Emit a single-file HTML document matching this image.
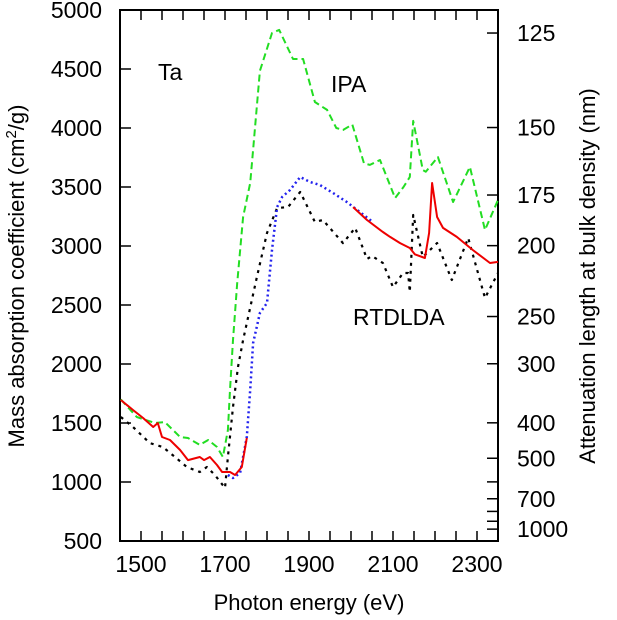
<!DOCTYPE html>
<html><head><meta charset="utf-8"><style>
html,body{margin:0;padding:0;background:#fff;}
svg text{font-family:"Liberation Sans",sans-serif;fill:#000;}
</style></head><body>
<svg id="chart" width="617" height="615" viewBox="0 0 617 615" xmlns="http://www.w3.org/2000/svg">
<g id="axes"></g>
<g id="series"></g>
<text x="158" y="80" font-size="23">Ta</text>
<text x="331" y="92" font-size="23">IPA</text>
<text x="353" y="325" font-size="23">RTDLDA</text>
<text x="309" y="610" font-size="22" text-anchor="middle">Photon energy (eV)</text>
<text transform="translate(24,276) rotate(-90)" font-size="22" text-anchor="middle">Mass absorption coefficient (cm<tspan dy="-8" font-size="15">2</tspan><tspan dy="8">/g)</tspan></text>
<text transform="translate(595,276) rotate(-90)" font-size="22" text-anchor="middle">Attenuation length at bulk density (nm)</text>
</svg>
<script>
const xTicks=[1500,1700,1900,2100,2300];
const yTicks=[500,1000,1500,2000,2500,3000,3500,4000,4500,5000];
const rTicks=[125,150,175,200,250,300,400,500,700,1000];
const rMinor=[600,800,900];
const ipaE=[1452,1490,1533,1557,1593,1612,1640,1660,1681,1695,1707,1712,1719,1729,1743,1760,1767,1783,1812,1829,1862,1886,1914,1943,1965,1981,2003,2031,2045,2069,2105,2125,2140,2148,2171,2178,2207,2243,2283,2319,2350];
const ipaV=[1700,1551,1500,1508,1381,1373,1314,1356,1297,1212,1441,1780,2203,2686,3246,3534,3814,4484,4805,4831,4585,4585,4220,4153,4000,3983,4030,3700,3687,3729,3407,3500,3585,4060,3644,3630,3754,3373,3670,3136,3390];
const blkE=[1452,1481,1521,1552,1581,1609,1640,1657,1676,1700,1707,1719,1731,1743,1776,1800,1824,1850,1879,1914,1933,1981,2010,2038,2050,2076,2100,2124,2136,2140,2148,2171,2205,2240,2279,2319,2350];
const blkV=[1551,1466,1330,1297,1212,1127,1085,1127,1059,949,1212,1636,1975,2203,2737,3110,3322,3330,3458,3203,3220,3025,3153,2890,2915,2856,2652,2771,2771,2610,3263,2907,3025,2712,3068,2559,2771];
const bluE=[1707,1719,1736,1752,1760,1767,1783,1800,1812,1824,1836,1855,1879,1902,1926,1957,1990,2021,2052];
const bluV=[1059,1034,1076,1381,1780,2178,2432,2517,2966,3330,3415,3475,3585,3543,3517,3450,3373,3288,3203];
const redE=[1452,1481,1505,1529,1540,1550,1569,1593,1612,1640,1650,1664,1681,1693,1712,1724,1740,1752];
const redV=[1695,1610,1542,1466,1500,1381,1356,1271,1186,1212,1186,1212,1144,1085,1085,1059,1127,1373];
const red2E=[2005,2038,2076,2093,2117,2140,2152,2176,2186,2193,2205,2219,2252,2290,2331,2350];
const red2V=[3330,3220,3119,3077,3025,2983,2930,2898,3110,3534,3246,3153,3077,2966,2856,2865];
const X0=120,X1=498,Y0=541,Y1=10;
const sx=e=>X0+(e-1450)/900*(X1-X0);
const sy=v=>Y0-(v-500)/4500*(Y0-Y1);
const lenToMu=L=>600600/L;
const NS='http://www.w3.org/2000/svg';
const axes=document.getElementById('axes'),ser=document.getElementById('series');
function mk(t,a,p){const e=document.createElementNS(NS,t);for(const k in a)e.setAttribute(k,a[k]);p.appendChild(e);return e;}
const fr=mk('rect',{x:X0,y:Y1,width:X1-X0,height:Y0-Y1,fill:'none',stroke:'#000','stroke-width':2},axes);


for(let e=1500;e<=2300;e+=50){
  const x=sx(e);
  const t1=mk('line',{x1:x,x2:x,y1:Y0,y2:Y0-10,stroke:'#000','stroke-width':1.5},axes);
  
  
  const t2=mk('line',{x1:x,x2:x,y1:Y1,y2:Y1+10,stroke:'#000','stroke-width':1.5},axes);
  
  
}
xTicks.forEach(e=>{const t=mk('text',{x:sx(e),y:Y0+31,'font-size':23,'text-anchor':'middle'},axes);t.textContent=e;
  
  });
yTicks.forEach(v=>{const y=sy(v);
  const l=mk('line',{x1:X0,x2:X0+11,y1:y,y2:y,stroke:'#000','stroke-width':1.5},axes);
  
  
  const t=mk('text',{x:102,y:y+8,'font-size':23,'text-anchor':'end'},axes);t.textContent=v;
  
  });
rTicks.forEach(L=>{const y=sy(lenToMu(L));
  const l=mk('line',{x1:X1-11,x2:X1,y1:y,y2:y,stroke:'#000','stroke-width':1.5},axes);
  
  
  const t=mk('text',{x:517,y:y+8,'font-size':23},axes);t.textContent=L;
  
  });
rMinor.forEach(L=>{const y=sy(lenToMu(L));
  const l=mk('line',{x1:X1-11,x2:X1,y1:y,y2:y,stroke:'#000','stroke-width':1.5},axes);
  
  });
function path(E,V,st){return mk('path',Object.assign({d:E.map((e,i)=>(i?'L':'M')+sx(e).toFixed(1)+','+sy(V[i]).toFixed(1)).join(''),fill:'none','stroke-linejoin':'round'},st),ser);}
const p1=path(ipaE,ipaV,{stroke:'#22dd22','stroke-width':2,'stroke-dasharray':'7,4'});


const p2=path(blkE,blkV,{stroke:'#000','stroke-width':2.2,'stroke-dasharray':'3,5'});


const p3=path(bluE,bluV,{stroke:'#2222ee','stroke-width':2.5,'stroke-dasharray':'2,3'});


const p4=path(redE,redV,{stroke:'#ee0000','stroke-width':2});


const p5=path(red2E,red2V,{stroke:'#ee0000','stroke-width':2});


</script>
</body></html>
